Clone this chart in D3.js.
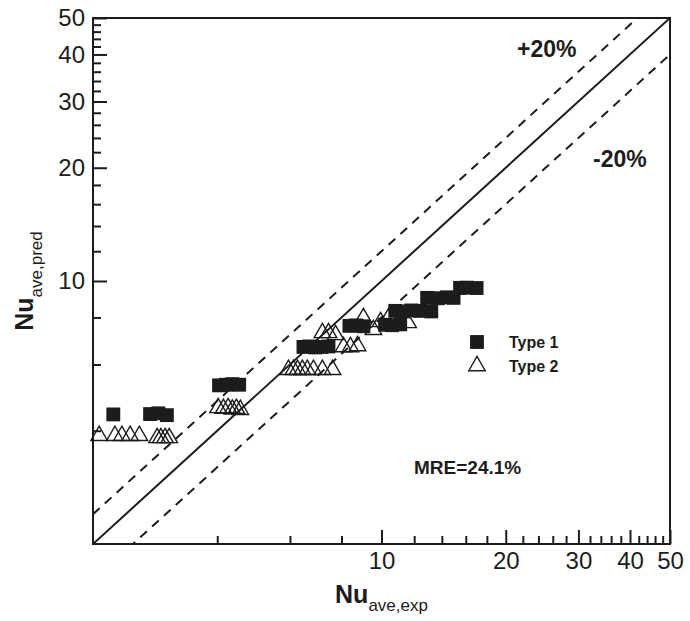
<!DOCTYPE html>
<html>
<head>
<meta charset="utf-8">
<script src="https://cdn.jsdelivr.net/npm/d3@7"></script>
<style>
  html, body { margin: 0; padding: 0; background: #fff; }
  svg { display: block; font-family: "Liberation Sans", Arial, Helvetica, sans-serif; }
</style>
</head>
<body>
<svg id="chart" width="690" height="621"></svg>
<script>
// ---- data ----
const type1X = [2.24, 2.75, 2.88, 3.02, 4.04, 4.20, 4.35, 4.52, 6.47, 6.69, 6.92, 7.15, 7.44,
                8.36, 8.69, 9.04, 10.2, 10.6, 11.1, 10.8, 11.3, 11.8, 12.4, 13.2,
                12.9, 13.7, 14.4, 14.95, 15.5, 16.1, 17.0];
const type1Y = [4.42, 4.43, 4.45, 4.40, 5.28, 5.30, 5.32, 5.30, 6.68, 6.70, 6.66, 6.68, 6.70,
                7.60, 7.62, 7.58, 7.65, 7.63, 7.67, 8.33, 8.30, 8.35, 8.33, 8.30,
                9.02, 9.00, 9.05, 9.02, 9.59, 9.60, 9.58];
const type2X = [2.07, 2.26, 2.35, 2.46, 2.59, 2.86, 2.92, 2.99, 3.06,
                4.02, 4.14, 4.25, 4.35, 4.45, 4.55,
                5.95, 6.12, 6.26, 6.43, 6.61, 6.84, 7.19, 7.61,
                7.19, 7.44, 7.74, 8.09, 8.41, 8.75, 9.04, 9.56, 9.95, 10.5, 11.6];
const type2Y = [3.88, 3.88, 3.88, 3.88, 3.88, 3.83, 3.83, 3.83, 3.83,
                4.60, 4.58, 4.60, 4.56, 4.58, 4.55,
                5.81, 5.81, 5.81, 5.81, 5.81, 5.81, 5.81, 5.81,
                7.28, 7.28, 7.19, 6.68, 6.68, 6.72, 7.98, 7.42, 7.79, 8.13, 7.74];
const majorTicks = [10, 20, 30, 40, 50];
const minorTicks = [4, 6, 8, 12, 14, 16, 18, 22, 24, 26, 28, 32, 34, 36, 38, 42, 44, 46, 48];
const refLines = [
  { factor: 1.2, dashed: true, label: "+20%" },
  { factor: 1.0, dashed: false, label: "" },
  { factor: 0.8, dashed: true, label: "-20%" }
];
const legendItems = ["Type 1", "Type 2"];
const mreText = "MRE=24.1%";

// ---- layout ----
const ink = "#1c1c1c";
const L = 93, R = 670, T = 18, B = 544;
const svg = d3.select("#chart");
const x = d3.scaleLog().domain([2, 50]).range([L, R]);
const y = d3.scaleLog().domain([2, 50]).range([B, T]);

// clip
svg.append("defs").append("clipPath").attr("id", "clip")
  .append("rect").attr("x", L).attr("y", T).attr("width", R - L).attr("height", B - T);

// reference lines
const lineG = svg.append("g").attr("clip-path", "url(#clip)");
refLines.forEach(r => {
  const xs = [2, 50];
  lineG.append("line")
    .attr("x1", x(xs[0])).attr("y1", y(xs[0] * r.factor))
    .attr("x2", x(xs[1])).attr("y2", y(xs[1] * r.factor))
    .attr("stroke", ink).attr("stroke-width", 2)
    .attr("stroke-dasharray", r.dashed ? "9,7" : null);
});

// triangles (type 2)
const tri = d3.symbol().type(d3.symbolTriangle).size(118);
svg.append("g").selectAll("path").data(type2X.map((v, i) => [v, type2Y[i]])).join("path")
  .attr("d", tri)
  .attr("transform", d => `translate(${x(d[0])},${y(d[1])})`)
  .attr("fill", "none").attr("stroke", ink).attr("stroke-width", 1.4);

// squares (type 1)
const sq = d3.symbol().type(d3.symbolSquare).size(192);
svg.append("g").selectAll("path").data(type1X.map((v, i) => [v, type1Y[i]])).join("path")
  .attr("d", sq)
  .attr("transform", d => `translate(${x(d[0])},${y(d[1])})`)
  .attr("fill", ink);

// axes
const fmt = d3.format("d");
const gx = svg.append("g").attr("transform", `translate(0,${B})`)
  .call(d3.axisBottom(x).tickValues(majorTicks).tickFormat(fmt).tickSizeInner(-14).tickSizeOuter(0).tickPadding(8));
const gxm = svg.append("g").attr("transform", `translate(0,${B})`)
  .call(d3.axisBottom(x).tickValues(minorTicks).tickFormat("").tickSizeInner(-8).tickSizeOuter(0));
const gy = svg.append("g").attr("transform", `translate(${L},0)`)
  .call(d3.axisLeft(y).tickValues(majorTicks).tickFormat(fmt).tickSizeInner(-14).tickSizeOuter(0).tickPadding(8));
const gym = svg.append("g").attr("transform", `translate(${L},0)`)
  .call(d3.axisLeft(y).tickValues(minorTicks).tickFormat("").tickSizeInner(-8).tickSizeOuter(0));
[gx, gxm, gy, gym].forEach(g => {
  g.select(".domain").remove();
  g.selectAll(".tick line").attr("stroke", ink).attr("stroke-width", 2);
  g.selectAll(".tick text").attr("fill", ink).attr("font-size", 24)
    .attr("font-family", "'Liberation Sans', Arial, sans-serif");
});

// frame
svg.append("rect").attr("x", L).attr("y", T).attr("width", R - L).attr("height", B - T)
  .attr("fill", "none").attr("stroke", ink).attr("stroke-width", 2);

// annotations
svg.append("text").attr("x", 517).attr("y", 57).attr("font-size", 23).attr("font-weight", "bold")
  .attr("fill", ink).text(refLines[0].label);
svg.append("text").attr("x", 593).attr("y", 167).attr("font-size", 23).attr("font-weight", "bold")
  .attr("fill", ink).text(refLines[2].label);
svg.append("text").attr("x", 414).attr("y", 474).attr("font-size", 19).attr("font-weight", "bold")
  .attr("fill", ink).text(mreText);

// legend
const lg = svg.append("g");
lg.append("path").attr("d", sq).attr("transform", "translate(477,342)").attr("fill", ink);
lg.append("path").attr("d", tri).attr("transform", "translate(477,366)")
  .attr("fill", "none").attr("stroke", ink).attr("stroke-width", 1.4);
legendItems.forEach((t, i) => {
  lg.append("text").attr("x", 509).attr("y", 342 + i * 24).attr("dy", "0.36em")
    .attr("font-size", 16).attr("font-weight", "bold").attr("fill", ink).text(t);
});

// axis titles
const xt = svg.append("text").attr("x", (L + R) / 2).attr("y", 603).attr("text-anchor", "middle").attr("fill", ink);
xt.append("tspan").attr("font-size", 25).attr("font-weight", "bold").text("Nu");
xt.append("tspan").attr("font-size", 17).attr("dy", 8).text("ave,exp");

const yt = svg.append("text").attr("transform", `translate(33,${(T + B) / 2}) rotate(-90)`)
  .attr("text-anchor", "middle").attr("fill", ink);
yt.append("tspan").attr("font-size", 25).attr("font-weight", "bold").text("Nu");
yt.append("tspan").attr("font-size", 17).attr("dy", 9).text("ave,pred");
</script>
</body>
</html>
